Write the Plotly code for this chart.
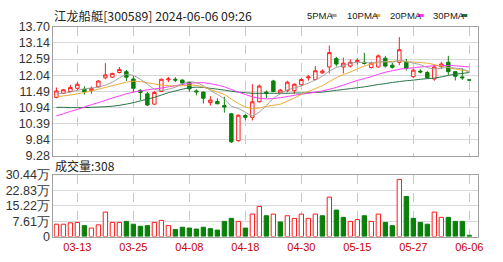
import plotly.graph_objects as go

dates = ["03-08","03-11","03-12","03-13","03-14","03-15","03-18","03-19","03-20","03-21",
         "03-22","03-25","03-26","03-27","03-28","03-29","04-01","04-02","04-03","04-08",
         "04-09","04-10","04-11","04-12","04-15","04-16","04-17","04-18","04-19","04-22",
         "04-23","04-24","04-25","04-26","04-29","04-30","05-06","05-07","05-08","05-09",
         "05-10","05-13","05-14","05-15","05-16","05-17","05-20","05-21","05-22","05-23",
         "05-24","05-27","05-28","05-29","05-30","05-31","06-03","06-04","06-05","06-06"]

open_ = [11.28,11.42,11.48,11.59,11.56,11.51,11.64,11.95,11.97,12.13,
         12.16,11.91,11.52,11.40,11.05,11.48,11.88,11.90,11.87,11.79,
         11.50,11.46,11.10,11.14,11.00,10.72,9.80,10.66,10.60,11.13,
         11.46,11.84,11.43,11.51,11.51,11.71,11.95,11.89,12.12,12.32,
         12.61,12.32,12.35,12.50,12.48,12.30,12.32,12.62,12.38,12.48,
         12.48,11.99,12.18,12.13,11.91,12.33,12.48,12.16,11.98,11.88]
high_ = [11.62,11.57,11.71,11.80,11.66,11.65,11.86,12.45,12.12,12.32,
         12.22,12.01,11.56,11.46,11.50,11.92,11.98,11.97,11.90,11.82,
         11.56,11.48,11.32,11.25,11.30,10.75,10.70,10.72,11.73,11.72,
         11.52,11.88,11.57,11.85,11.76,11.95,12.05,12.35,12.24,13.05,
         12.67,12.64,12.58,12.62,12.80,12.50,12.75,12.70,12.46,13.34,
         12.60,12.24,12.24,12.18,12.40,12.50,12.70,12.18,12.28,11.88]
low_ = [11.25,11.40,11.46,11.52,11.38,11.40,11.62,11.90,11.95,12.10,
        11.84,11.45,11.19,10.98,11.02,11.46,11.80,11.80,11.70,11.47,
        11.35,11.07,11.00,11.05,10.76,9.72,9.77,10.50,10.49,11.10,
        11.25,11.46,11.40,11.45,11.40,11.68,11.85,11.86,12.08,12.10,
        12.34,12.10,12.30,12.40,12.40,12.27,12.30,12.30,12.26,12.38,
        12.20,11.94,12.10,11.92,11.85,12.25,12.05,11.86,11.88,11.86]
close_ = [11.50,11.54,11.62,11.73,11.47,11.59,11.84,12.05,12.10,12.23,
          11.97,11.59,11.45,11.02,11.45,11.90,11.91,11.87,11.77,11.57,
          11.47,11.25,11.19,11.06,10.95,9.76,10.67,10.60,11.13,11.67,
          11.41,11.48,11.53,11.80,11.73,11.89,11.98,12.19,12.18,12.81,
          12.42,12.45,12.48,12.54,12.44,12.45,12.70,12.35,12.31,12.91,
          12.27,12.21,12.15,11.95,12.32,12.42,12.16,12.00,11.95,11.87]

ma5 = [11.40,11.42,11.46,11.52,11.57,11.60,11.63,11.70,11.80,11.95,
       12.06,12.03,11.90,11.73,11.56,11.51,11.56,11.63,11.74,11.82,
       11.78,11.68,11.52,11.38,11.23,10.98,10.90,10.77,10.65,10.78,
       11.00,11.25,11.40,11.54,11.60,11.67,11.77,11.88,12.00,12.18,
       12.30,12.37,12.45,12.48,12.47,12.46,12.49,12.50,12.48,12.55,
       12.50,12.45,12.40,12.30,12.25,12.28,12.30,12.28,12.25,12.15]
ma10 = [11.30,11.33,11.36,11.40,11.45,11.50,11.56,11.62,11.68,11.74,
        11.80,11.83,11.82,11.78,11.74,11.70,11.68,11.67,11.68,11.70,
        11.69,11.63,11.55,11.46,11.38,11.22,11.07,10.95,10.90,10.92,
        10.97,11.01,11.05,11.15,11.26,11.38,11.48,11.58,11.68,11.82,
        11.95,12.06,12.15,12.25,12.35,12.42,12.47,12.50,12.51,12.53,
        12.50,12.49,12.47,12.45,12.40,12.35,12.30,12.25,12.21,12.17]
ma20 = [10.65,10.72,10.80,10.87,10.95,11.03,11.10,11.18,11.26,11.33,
        11.40,11.46,11.50,11.54,11.57,11.60,11.64,11.68,11.72,11.76,
        11.78,11.78,11.75,11.70,11.64,11.55,11.46,11.38,11.30,11.25,
        11.23,11.24,11.27,11.31,11.35,11.39,11.42,11.46,11.50,11.56,
        11.62,11.70,11.78,11.86,11.92,11.99,12.07,12.14,12.19,12.24,
        12.27,12.29,12.32,12.34,12.36,12.37,12.37,12.36,12.34,12.32]
ma30 = [10.94,10.94,10.93,10.93,10.93,10.94,10.95,10.96,10.98,11.01,
        11.05,11.10,11.16,11.22,11.28,11.36,11.44,11.50,11.56,11.61,
        11.63,11.62,11.59,11.56,11.53,11.49,11.46,11.44,11.42,11.42,
        11.42,11.42,11.42,11.42,11.43,11.43,11.44,11.45,11.46,11.49,
        11.52,11.55,11.58,11.61,11.64,11.68,11.72,11.75,11.79,11.82,
        11.85,11.87,11.90,11.92,11.94,11.98,12.03,12.07,12.10,12.13]

# volume in 万 (10k shares); 1 = up (red hollow), 0 = down (green)
volume = [6.1,6.1,6.8,7.0,5.4,4.2,5.8,12.1,7.0,7.0,
          7.5,6.1,5.1,5.4,7.0,8.0,5.4,3.5,4.6,4.2,
          3.7,4.6,3.9,3.2,7.5,9.0,7.5,4.2,11.1,14.9,
          10.3,11.1,7.2,10.3,9.0,11.1,9.0,11.1,10.3,19.5,
          13.1,9.5,7.5,8.4,10.3,7.5,11.1,7.0,5.4,28.3,
          19.8,9.0,7.0,6.1,12.1,9.5,9.5,7.5,7.5,0.6]
vol_up = [1,1,1,1,0,1,1,1,1,1,
          0,0,0,0,1,1,1,0,0,0,
          0,0,0,0,0,0,1,0,1,1,
          0,1,0,1,1,1,1,1,0,1,
          0,0,1,1,0,1,1,0,0,1,
          0,0,0,0,1,1,0,0,0,0]

price_ticks = [9.28, 9.84, 10.39, 10.94, 11.49, 12.04, 12.59, 13.14, 13.70]
price_labels = ["9.28", "9.84", "10.39", "10.94", "11.49", "12.04", "12.59", "13.14", "13.70"]
vol_ticks = [0, 7.61, 15.22, 22.83, 30.44]
vol_labels = ["0", "7.61万", "15.22万", "22.83万", "30.44万"]
date_ticks = ["03-13", "03-25", "04-08", "04-18", "04-30", "05-15", "05-27", "06-06"]

title_text = "江龙船艇[300589] 2024-06-06 09:26"
vol_title = "成交量:308"
ma_names = ["5PMA", "10PMA", "20PMA", "30PMA"]

RED = "#ff1a1a"
GREEN = "#0a800a"
MA_COLORS = ["#a0a0a0", "#f0a830", "#ff33ff", "#1f6f3f"]

W, H = 503, 262
def py(p):
    return 1 - p / H
def px(p):
    return p / W

fig = go.Figure()

for vals, col in zip([ma30, ma20, ma10, ma5], MA_COLORS[::-1]):
    fig.add_trace(go.Scatter(x=dates, y=vals, mode="lines",
                             line=dict(color=col, width=1, shape="spline", smoothing=0.6),
                             hoverinfo="skip", xaxis="x", yaxis="y"))

fig.add_trace(go.Candlestick(
    x=dates, open=open_, high=high_, low=low_, close=close_,
    increasing=dict(line=dict(color=RED, width=1), fillcolor="white"),
    decreasing=dict(line=dict(color=GREEN, width=1), fillcolor=GREEN),
    whiskerwidth=0, xaxis="x", yaxis="y"))

fig.add_trace(go.Bar(
    x=dates, y=volume, width=0.62,
    marker=dict(color=["white" if u else GREEN for u in vol_up],
                line=dict(color=[RED if u else GREEN for u in vol_up], width=1)),
    xaxis="x2", yaxis="y2"))

xr = [-0.42, 60.27]
dom_x = [px(54), px(483)]
common_x = dict(type="category", range=xr, domain=dom_x, tickvals=date_ticks,
                showgrid=True, gridcolor="#c8c8c8", griddash="dash", gridwidth=1,
                showline=True, linecolor="#a0a0a0", mirror=True, ticks="",
                rangeslider=dict(visible=False), zeroline=False)

fig.update_layout(
    width=W, height=H, margin=dict(l=0, r=0, t=0, b=0),
    paper_bgcolor="white", plot_bgcolor="white", showlegend=False,
    xaxis=dict(**common_x, anchor="y", showticklabels=False),
    xaxis2=dict(**common_x, anchor="y2", showticklabels=True, ticktext=date_ticks,
                tickfont=dict(family="Liberation Sans", size=11, color="#cc0000")),
    yaxis=dict(domain=[py(157.3), py(20.7)], range=[9.28, 13.70], tickvals=price_ticks,
               ticktext=price_labels, showgrid=True, gridcolor="#d8d8d8", gridwidth=1,
               showline=True, linecolor="#a0a0a0", mirror=True, ticks="", zeroline=False,
               tickfont=dict(family="Liberation Sans", size=12.5, color="#333333")),
    yaxis2=dict(domain=[py(242.5), py(177.5)], range=[0, 30.44], tickvals=vol_ticks,
                ticktext=vol_labels, showgrid=True, gridcolor="#d8d8d8", gridwidth=1,
                showline=True, linecolor="#a0a0a0", mirror=True, ticks="", zeroline=False,
                tickfont=dict(family="Liberation Sans", size=12.5, color="#333333")),
    bargap=0.3,
)

ann = []
ann.append(dict(text=title_text, x=px(53), y=py(9), xref="paper", yref="paper",
                xanchor="left", yanchor="middle", showarrow=False,
                font=dict(family="Noto Sans CJK SC", size=12.3, color="#222222")))
ann.append(dict(text=vol_title, x=px(54), y=py(167), xref="paper", yref="paper",
                xanchor="left", yanchor="middle", showarrow=False,
                font=dict(family="Noto Sans CJK SC", size=12, color="#222222")))
leg_x = [308, 348, 392, 435]
for name, col, lx in zip(ma_names, MA_COLORS, leg_x):
    ann.append(dict(text=name, x=px(lx), y=py(8.5), xref="paper", yref="paper",
                    xanchor="left", yanchor="middle", showarrow=False,
                    font=dict(family="Liberation Sans", size=9.5, color="#222222")))
fig.update_layout(annotations=ann)

shapes = []
dash_x = [334, 378, 422, 466]
for col, dx in zip(MA_COLORS, dash_x):
    shapes.append(dict(type="line", xref="paper", yref="paper",
                       x0=px(dx), x1=px(dx + 6), y0=py(9), y1=py(9),
                       line=dict(color=col, width=3)))
fig.update_layout(shapes=shapes)

fig.write_html("out.html")
